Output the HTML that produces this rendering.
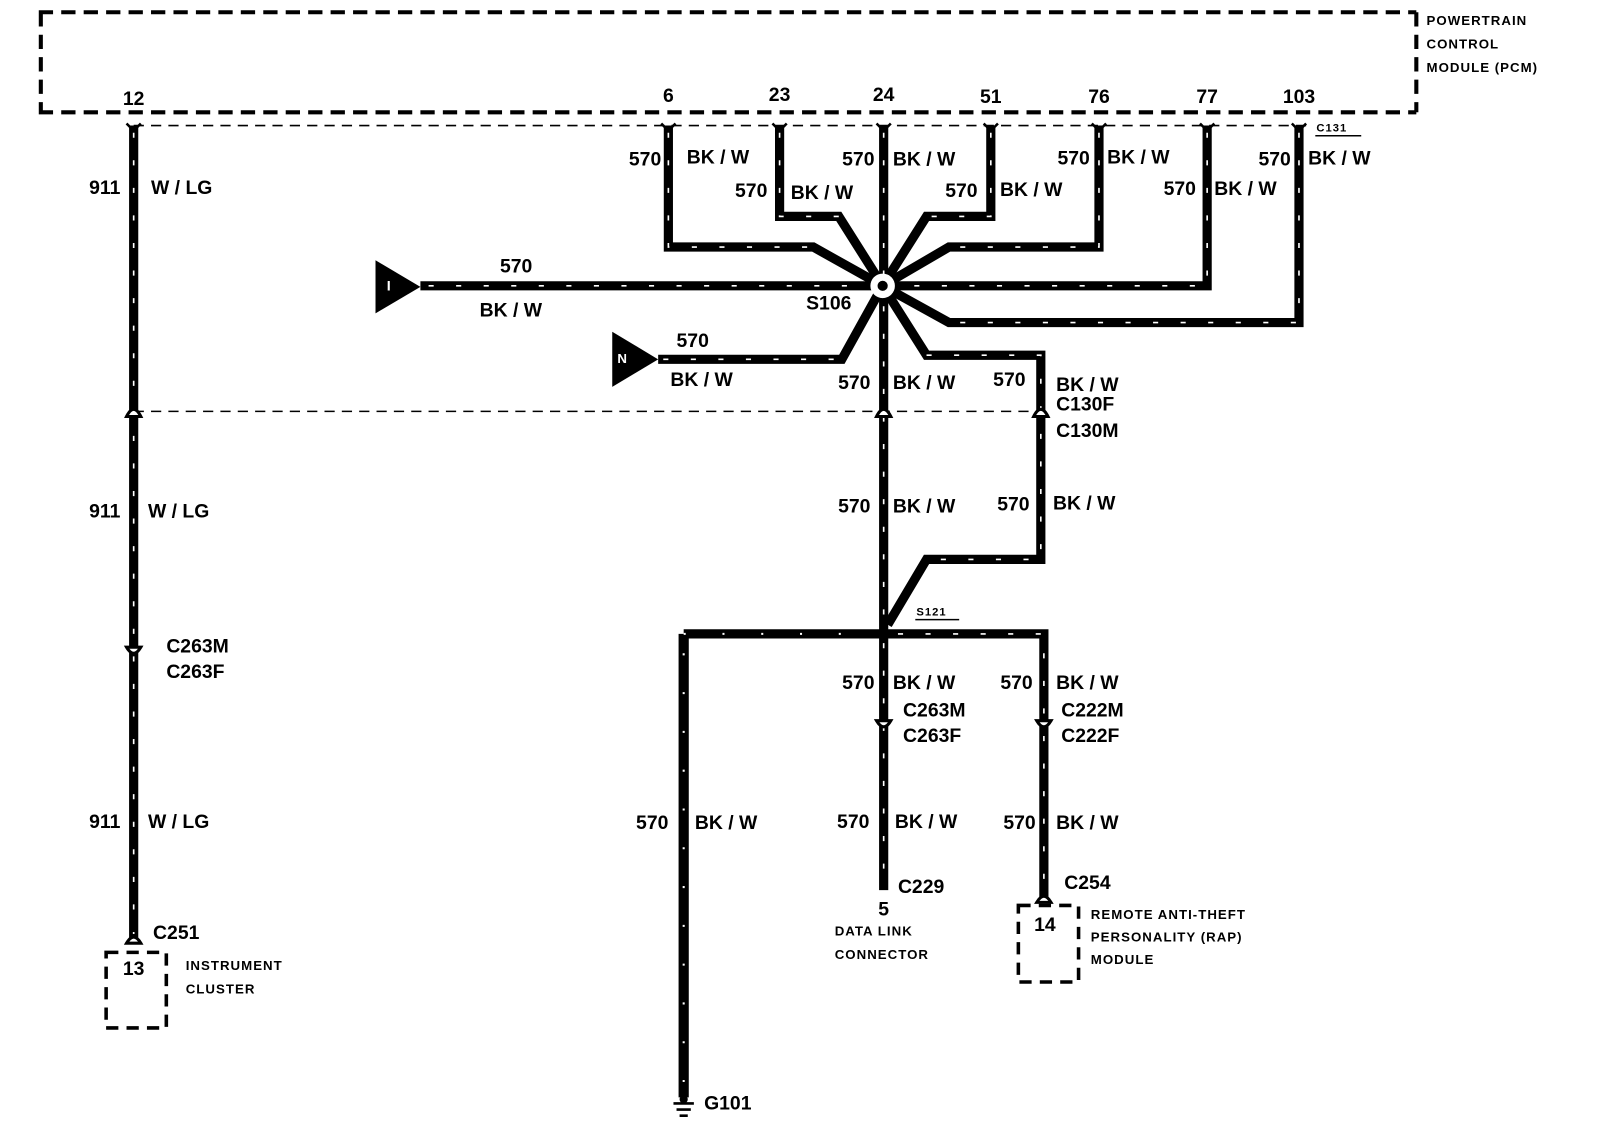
<!DOCTYPE html>
<html><head><meta charset="utf-8"><style>
html,body{margin:0;padding:0;background:#fff;}
svg{display:block}
text{font-family:"Liberation Sans",sans-serif;font-weight:bold;fill:#000;dominant-baseline:middle}
.l{font-size:19px}
.s{font-size:13px;letter-spacing:1px}
.w{fill:none;stroke:#000;stroke-width:9;stroke-linejoin:miter}
.m{fill:none;stroke:#fff;stroke-width:1.6;stroke-dasharray:5 22}
.d{fill:none;stroke:#000;stroke-width:1.5;stroke-dasharray:10 7}
.D{fill:none;stroke:#000;stroke-width:4;stroke-dasharray:14 8}
</style></head><body>
<svg width="1600" height="1130" viewBox="0 0 1568 1107" preserveAspectRatio="none" xmlns="http://www.w3.org/2000/svg">
<path class="D" d="M38 12 H1388 M38 110 H1388 M40 12 V110 M1388 12 V110"/>
<text class="s" x="1398" y="21">POWERTRAIN</text>
<text class="s" x="1398" y="44">CONTROL</text>
<text class="s" x="1398" y="67">MODULE (PCM)</text>
<path class="d" d="M131 123 H1280"/>
<text class="s" x="1290" y="126" style="font-size:11px">C131</text>
<path d="M1289 133 H1334" stroke="#000" stroke-width="1.5"/>
<g class="l" text-anchor="middle">
<text x="131" y="98">12</text><text x="655" y="95">6</text><text x="764" y="94">23</text>
<text x="866" y="94">24</text><text x="971" y="96">51</text><text x="1077" y="96">76</text>
<text x="1183" y="96">77</text><text x="1273" y="96">103</text>
</g>
<g id="wires">
<path class="w" d="M131 123 V920"/>
<path class="w" d="M655 123 V242 H797 L865 280"/>
<path class="w" d="M764 123 V212 H822 L865 280"/>
<path class="w" d="M866 123 V620"/>
<path class="w" d="M971 123 V212 H908 L865 280"/>
<path class="w" d="M1077 123 V242 H930 L865 280"/>
<path class="w" d="M1183 123 V280 H865"/>
<path class="w" d="M1273 123 V316 H930 L865 280"/>
<path class="w" d="M412 280 H865"/>
<path class="w" d="M645 352 H825 L865 280"/>
<path class="w" d="M865 280 L908 348 H1020 V548 H908 L870 612"/>
<path class="w" d="M670 621 H1023 V880"/>
<path class="w" d="M866 621 V872"/>
<path d="M670 621 V1075" stroke="#000" stroke-width="10" fill="none"/>
</g>
<g>
<path class="m" d="M131 130 V915"/>
<path class="m" d="M655 130 V242 H797"/>
<path class="m" d="M764 130 V212 H822"/>
<path class="m" d="M866 130 V270 M866 300 V612"/>
<path class="m" d="M971 130 V212 H908"/>
<path class="m" d="M1077 130 V242 H930"/>
<path class="m" d="M1183 130 V280 H880"/>
<path class="m" d="M1273 130 V316 H930"/>
<path class="m" d="M420 280 H850"/>
<path class="m" d="M650 352 H825"/>
<path class="m" d="M908 348 H1020 V548 H908"/>
<path class="m" d="M880 621 H1023 V875 M866 630 V868"/>
<path d="M670 621 H860" stroke="#fff" stroke-width="2" stroke-dasharray="2 36" fill="none"/>
<path d="M670 640 V1075" stroke="#fff" stroke-width="2" stroke-dasharray="2 36" fill="none"/>
</g>
<circle cx="865" cy="280" r="12" fill="#fff"/>
<circle cx="865" cy="280" r="5" fill="#000"/>
<text class="l" x="790" y="298">S106</text>
<circle cx="866" cy="621" r="6" fill="#000"/>
<text class="s" x="898" y="600" style="font-size:11px">S121</text>
<path d="M897 607 H940" stroke="#000" stroke-width="1.5"/>
<g stroke="#000" stroke-width="2.5" fill="none">
<path d="M124 121 L131 128 L138 121"/><path d="M648 121 L655 128 L662 121"/><path d="M757 121 L764 128 L771 121"/>
<path d="M859 121 L866 128 L873 121"/><path d="M964 121 L971 128 L978 121"/><path d="M1070 121 L1077 128 L1084 121"/>
<path d="M1176 121 L1183 128 L1190 121"/><path d="M1266 121 L1273 128 L1280 121"/>
</g>
<path class="d" d="M131 403 H1020"/>
<g fill="#fff" stroke="#000" stroke-width="3">
<path d="M124 408 Q131 394 138 408 Z"/><path d="M859 408 Q866 394 873 408 Z"/><path d="M1013 408 Q1020 394 1027 408 Z"/>
<path d="M124 634 Q131 646 138 634 Z"/><path d="M859 706 Q866 718 873 706 Z"/><path d="M1016 706 Q1023 718 1030 706 Z"/>
<path d="M124 924 Q131 912 138 924 Z"/><path d="M1016 884 Q1023 872 1030 884 Z"/>
</g>
<path d="M368 255 L412 281 L368 307 Z" fill="#000"/>
<text x="379" y="281" style="font-size:14px;fill:#fff">I</text>
<path d="M600 325 L645 352 L600 379 Z" fill="#000"/>
<text x="605" y="352" style="font-size:13px;fill:#fff">N</text>
<g class="l">
<text x="118" y="185" text-anchor="end">911</text><text x="148" y="185">W / LG</text>
<text x="118" y="502" text-anchor="end">911</text><text x="145" y="502">W / LG</text>
<text x="118" y="806" text-anchor="end">911</text><text x="145" y="806">W / LG</text>
<text x="163" y="634">C263M</text><text x="163" y="659">C263F</text>
<text x="150" y="915">C251</text>
<text x="648" y="157" text-anchor="end">570</text><text x="673" y="155">BK / W</text>
<text x="752" y="188" text-anchor="end">570</text><text x="775" y="190">BK / W</text>
<text x="857" y="157" text-anchor="end">570</text><text x="875" y="157">BK / W</text>
<text x="958" y="188" text-anchor="end">570</text><text x="980" y="187">BK / W</text>
<text x="1068" y="156" text-anchor="end">570</text><text x="1085" y="155">BK / W</text>
<text x="1172" y="186" text-anchor="end">570</text><text x="1190" y="186">BK / W</text>
<text x="1265" y="157" text-anchor="end">570</text><text x="1282" y="156">BK / W</text>
<text x="490" y="262">570</text><text x="470" y="305">BK / W</text>
<text x="663" y="335">570</text><text x="657" y="373">BK / W</text>
<text x="853" y="376" text-anchor="end">570</text><text x="875" y="376">BK / W</text>
<text x="1005" y="373" text-anchor="end">570</text>
<text x="1035" y="378">BK / W</text><text x="1035" y="397">C130F</text><text x="1035" y="423">C130M</text>
<text x="853" y="497" text-anchor="end">570</text><text x="875" y="497">BK / W</text>
<text x="1009" y="495" text-anchor="end">570</text><text x="1032" y="494">BK / W</text>
<text x="857" y="670" text-anchor="end">570</text><text x="875" y="670">BK / W</text>
<text x="1012" y="670" text-anchor="end">570</text><text x="1035" y="670">BK / W</text>
<text x="885" y="697">C263M</text><text x="885" y="722">C263F</text>
<text x="1040" y="697">C222M</text><text x="1040" y="722">C222F</text>
<text x="655" y="807" text-anchor="end">570</text><text x="681" y="807">BK / W</text>
<text x="852" y="806" text-anchor="end">570</text><text x="877" y="806">BK / W</text>
<text x="1015" y="807" text-anchor="end">570</text><text x="1035" y="807">BK / W</text>
<text x="880" y="870">C229</text><text x="866" y="892" text-anchor="middle">5</text>
<text x="1043" y="866">C254</text>
<text x="690" y="1082">G101</text>
<text x="131" y="950" text-anchor="middle">13</text>
<text x="1024" y="907" text-anchor="middle">14</text>
</g>
<g class="s">
<text x="182" y="947">INSTRUMENT</text><text x="182" y="970">CLUSTER</text>
<text x="818" y="913">DATA LINK</text><text x="818" y="936">CONNECTOR</text>
<text x="1069" y="897">REMOTE ANTI-THEFT</text><text x="1069" y="919">PERSONALITY (RAP)</text><text x="1069" y="941">MODULE</text>
</g>
<rect class="D" x="104" y="933" width="59" height="74" style="stroke-width:3.5;stroke-dasharray:12 8"/>
<rect class="D" x="998" y="887" width="59" height="75" style="stroke-width:3.5;stroke-dasharray:12 8"/>
<g stroke="#000" stroke-width="2.5">
<path d="M660 1081 H680 M663 1087 H677 M666 1093 H674"/>
</g>
<circle cx="670" cy="1077" r="4" fill="#000"/>
</svg>
</body></html>
